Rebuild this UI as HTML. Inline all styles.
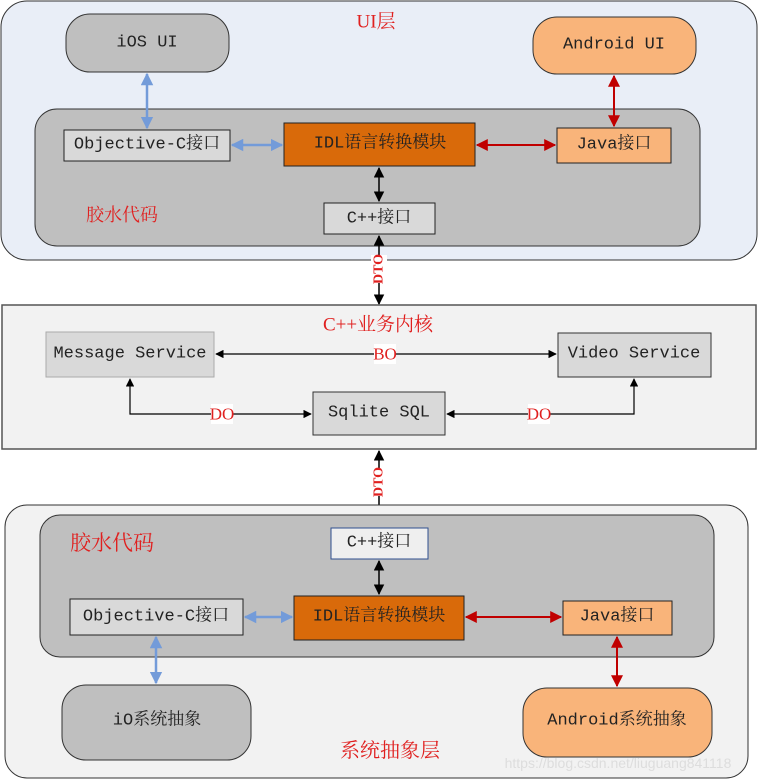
<!DOCTYPE html>
<html><head><meta charset="utf-8"><style>
html,body{margin:0;padding:0;background:#fff}
svg{display:block}
text{font-family:"Liberation Mono","Noto Serif CJK SC",monospace;font-size:17px;fill:#222;text-anchor:middle;dominant-baseline:central}
.r{fill:#e0201f;font-family:"Liberation Serif","Noto Serif CJK SC",serif}
</style></head><body>
<svg width="758" height="780" viewBox="0 0 758 780" xmlns="http://www.w3.org/2000/svg">
<defs>
<marker id="k" viewBox="0 0 10 10" refX="9" refY="5" markerWidth="7" markerHeight="7" orient="auto-start-reverse"><path d="M0,0L10,5L0,10z" fill="#000"/></marker>
<marker id="rd" viewBox="0 0 10 10" refX="9" refY="5" markerWidth="6" markerHeight="6" orient="auto-start-reverse"><path d="M0,0L10,5L0,10z" fill="#c00000"/></marker>
<marker id="bl" viewBox="0 0 10 10" refX="9" refY="5" markerWidth="5" markerHeight="5" orient="auto-start-reverse"><path d="M0,0L10,5L0,10z" fill="#739bd9"/></marker>
</defs>
<!-- top layer -->
<rect x="1" y="1" width="756" height="259" rx="26" fill="#e9eef7" stroke="#333" stroke-width="1"/>
<text x="376" y="22" class="r" style="font-size:19px">UI层</text>
<rect x="66" y="14" width="163" height="58" rx="24" fill="#bfbfbf" stroke="#333"/>
<text x="147" y="43">iOS UI</text>
<rect x="533" y="17" width="163" height="57" rx="24" fill="#f9b47a" stroke="#333"/>
<text x="614" y="45">Android UI</text>
<rect x="35" y="109" width="665" height="137" rx="22" fill="#bfbfbf" stroke="#333"/>
<rect x="64" y="130" width="166" height="31" fill="#d9d9d9" stroke="#222"/>
<text x="147" y="145">Objective-C接口</text>
<rect x="284" y="123" width="191" height="43" fill="#d96a0a" stroke="#222"/>
<text x="380" y="144">IDL语言转换模块</text>
<rect x="557" y="128" width="114" height="35" fill="#f9b47a" stroke="#222"/>
<text x="614" y="145">Java接口</text>
<rect x="324" y="203" width="111" height="31" fill="#d9d9d9" stroke="#222"/>
<text x="379" y="219">C++接口</text>
<text x="122" y="215" class="r" style="font-size:18px">胶水代码</text>
<line x1="147" y1="74" x2="147" y2="128" stroke="#739bd9" stroke-width="2.5" marker-start="url(#bl)" marker-end="url(#bl)"/>
<line x1="614" y1="76" x2="614" y2="126" stroke="#c00000" stroke-width="2" marker-start="url(#rd)" marker-end="url(#rd)"/>
<line x1="232" y1="145" x2="282" y2="145" stroke="#739bd9" stroke-width="2.5" marker-start="url(#bl)" marker-end="url(#bl)"/>
<line x1="477" y1="145" x2="555" y2="145" stroke="#c00000" stroke-width="2" marker-start="url(#rd)" marker-end="url(#rd)"/>
<line x1="379" y1="168" x2="379" y2="201" stroke="#000" stroke-width="1.5" marker-start="url(#k)" marker-end="url(#k)"/>
<!-- DTO top -->
<line x1="379" y1="236" x2="379" y2="304" stroke="#000" stroke-width="1.5" marker-start="url(#k)" marker-end="url(#k)"/>
<rect x="371" y="255" width="16" height="28" fill="#fff"/>
<text x="379" y="269" class="r" transform="rotate(-90 379 269)" style="font-size:14px;font-weight:bold">DTO</text>
<!-- middle -->
<rect x="2" y="305" width="754" height="144" fill="#f2f2f2" stroke="#555" stroke-width="1.5"/>
<text x="378" y="325" class="r" style="font-size:19px">C++业务内核</text>
<rect x="46" y="332" width="168" height="45" fill="#d9d9d9" stroke="#aaa"/>
<text x="130" y="354">Message Service</text>
<rect x="558" y="333" width="153" height="44" fill="#d9d9d9" stroke="#333"/>
<text x="634" y="354">Video Service</text>
<rect x="313" y="392" width="132" height="43" fill="#d9d9d9" stroke="#333"/>
<text x="379" y="413">Sqlite SQL</text>
<line x1="216" y1="354" x2="556" y2="354" stroke="#000" stroke-width="1.2" marker-start="url(#k)" marker-end="url(#k)"/>
<rect x="374" y="344" width="22" height="20" fill="#fff"/>
<text x="385" y="354" class="r">BO</text>
<polyline points="130,379 130,414 311,414" fill="none" stroke="#000" stroke-width="1.2" marker-start="url(#k)" marker-end="url(#k)"/>
<rect x="211" y="404" width="22" height="20" fill="#fff"/>
<text x="222" y="414" class="r">DO</text>
<polyline points="447,414 634,414 634,379" fill="none" stroke="#000" stroke-width="1.2" marker-start="url(#k)" marker-end="url(#k)"/>
<rect x="528" y="404" width="22" height="20" fill="#fff"/>
<text x="539" y="414" class="r">DO</text>
<!-- DTO bottom -->
<line x1="379" y1="451" x2="379" y2="526" stroke="#000" stroke-width="1.5" marker-start="url(#k)" marker-end="url(#k)"/>
<rect x="371" y="468" width="16" height="28" fill="#fff"/>
<text x="379" y="482" class="r" transform="rotate(-90 379 482)" style="font-size:14px;font-weight:bold">DTO</text>
<!-- bottom layer -->
<rect x="5" y="505" width="743" height="273" rx="22" fill="#f2f2f2" stroke="#333"/>
<rect x="40" y="515" width="674" height="142" rx="20" fill="#bfbfbf" stroke="#333"/>
<text x="112" y="543" class="r" style="font-size:21px">胶水代码</text>
<rect x="331" y="528" width="97" height="31" fill="#efefef" stroke="#2f4f8f"/>
<text x="379" y="543">C++接口</text>
<rect x="70" y="599" width="173" height="36" fill="#d9d9d9" stroke="#222"/>
<text x="156" y="617">Objective-C接口</text>
<rect x="294" y="596" width="170" height="44" fill="#d96a0a" stroke="#222"/>
<text x="379" y="617">IDL语言转换模块</text>
<rect x="563" y="601" width="109" height="34" fill="#f9b47a" stroke="#222"/>
<text x="617" y="617">Java接口</text>
<rect x="62" y="685" width="189" height="75" rx="24" fill="#bfbfbf" stroke="#333"/>
<text x="157" y="721">iO系统抽象</text>
<rect x="523" y="688" width="189" height="69" rx="24" fill="#f9b47a" stroke="#333"/>
<text x="617" y="721">Android系统抽象</text>
<text x="390" y="751" class="r" style="font-size:20px">系统抽象层</text>
<text x="618" y="763" style="font-size:14px;fill:#dddddd;font-family:'Liberation Sans',sans-serif">https://blog.csdn.net/liuguang841118</text>
<line x1="379" y1="561" x2="379" y2="594" stroke="#000" stroke-width="1.5" marker-start="url(#k)" marker-end="url(#k)"/>
<line x1="245" y1="617" x2="292" y2="617" stroke="#739bd9" stroke-width="2.5" marker-start="url(#bl)" marker-end="url(#bl)"/>
<line x1="466" y1="617" x2="561" y2="617" stroke="#c00000" stroke-width="2" marker-start="url(#rd)" marker-end="url(#rd)"/>
<line x1="156" y1="637" x2="156" y2="683" stroke="#739bd9" stroke-width="2.5" marker-start="url(#bl)" marker-end="url(#bl)"/>
<line x1="617" y1="637" x2="617" y2="686" stroke="#c00000" stroke-width="2" marker-start="url(#rd)" marker-end="url(#rd)"/>
</svg>
</body></html>
